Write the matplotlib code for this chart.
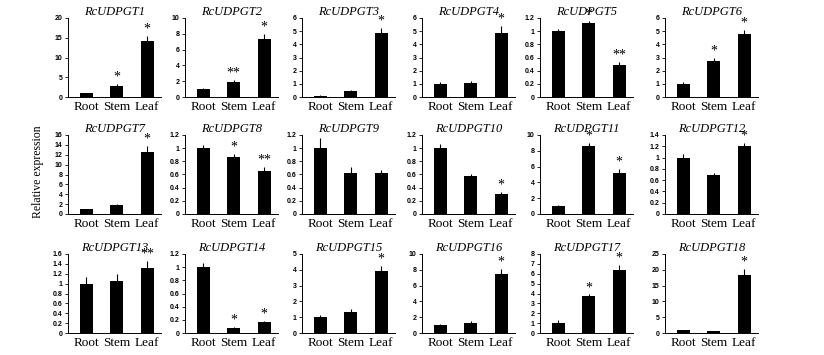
import matplotlib
matplotlib.use("Agg")
import matplotlib.pyplot as plt
import numpy as np

tissues = ["Root", "Stem", "Leaf"]

genes = ["RcUDPGT%d" % i for i in range(1, 19)]

# mean relative expression (Root, Stem, Leaf)
means = [
    [1.0, 2.9, 14.3],
    [1.0, 1.9, 7.3],
    [0.1, 0.45, 4.85],
    [1.0, 1.05, 4.85],
    [1.0, 1.12, 0.48],
    [1.0, 2.7, 4.75],
    [1.0, 1.8, 12.6],
    [1.0, 0.86, 0.66],
    [1.0, 0.62, 0.62],
    [1.0, 0.58, 0.31],
    [1.0, 8.6, 5.2],
    [1.0, 0.7, 1.21],
    [1.0, 1.05, 1.31],
    [1.0, 0.08, 0.17],
    [1.0, 1.35, 3.9],
    [1.0, 1.3, 7.5],
    [1.0, 3.75, 6.4],
    [0.9, 0.6, 18.5],
]

errors = [
    [0.1, 0.3, 1.2],
    [0.1, 0.2, 0.7],
    [0.03, 0.06, 0.4],
    [0.12, 0.15, 0.55],
    [0.04, 0.03, 0.05],
    [0.15, 0.3, 0.35],
    [0.1, 0.3, 1.2],
    [0.05, 0.05, 0.05],
    [0.15, 0.1, 0.05],
    [0.06, 0.03, 0.03],
    [0.1, 0.4, 0.5],
    [0.07, 0.03, 0.05],
    [0.14, 0.15, 0.14],
    [0.06, 0.015, 0.015],
    [0.12, 0.2, 0.35],
    [0.08, 0.2, 0.6],
    [0.27, 0.15, 0.5],
    [0.1, 0.1, 1.7],
]

stars = [
    ["", "*", "*"],
    ["", "**", "*"],
    ["", "", "*"],
    ["", "", "*"],
    ["", "*", "**"],
    ["", "*", "*"],
    ["", "", "*"],
    ["", "*", "**"],
    ["", "", ""],
    ["", "", "*"],
    ["", "*", "*"],
    ["", "", "*"],
    ["", "", "**"],
    ["", "*", "*"],
    ["", "", "*"],
    ["", "", "*"],
    ["", "*", "*"],
    ["", "", "*"],
]

# y-axis max and tick step per panel
ymax = [20, 10, 6, 6, 1.2, 6, 16, 1.2, 1.2, 1.2, 10, 1.4, 1.6, 1.2, 5, 10, 8, 25]
ystep = [5, 2, 1, 1, 0.2, 1, 2, 0.2, 0.2, 0.2, 2, 0.2, 0.2, 0.2, 1, 2, 1, 5]

W, H = 824, 355
fig = plt.figure(figsize=(W / 100, H / 100), dpi=100)

lefts = [68, 185, 302, 422, 540, 665]
tops = [18, 135, 254]
aw, ah = 93, 79

x = np.arange(3)
for i, g in enumerate(genes):
    r, c = divmod(i, 6)
    ax = fig.add_axes([lefts[c] / W, 1 - (tops[r] + ah) / H, aw / W, ah / H])
    ax.bar(x, means[i], width=0.44, color="black",
           yerr=[np.zeros(3), errors[i]], error_kw=dict(ecolor="black", elinewidth=0.8, capsize=0))
    for j in range(3):
        if stars[i][j]:
            ax.text(x[j], means[i][j] + errors[i][j] + ymax[i] * 0.005, stars[i][j],
                    ha="center", va="bottom", fontsize=10, family="Liberation Serif")
    ax.set_xlim(-0.6, 2.45)
    ax.set_ylim(0, ymax[i])
    ticks = np.arange(0, ymax[i] + ystep[i] / 2, ystep[i])
    ax.set_yticks(ticks)
    ax.set_yticklabels(["%g" % round(t, 1) for t in ticks], fontsize=5, fontweight="bold",
                       family="Liberation Sans")
    ax.set_xticks(x)
    ax.set_xticklabels(tissues, fontsize=9.5, family="Liberation Serif")
    ax.tick_params(axis="x", length=0, pad=3)
    ax.tick_params(axis="y", length=2, width=0.6, pad=2)
    for s in ["top", "right"]:
        ax.spines[s].set_visible(False)
    for s in ["left", "bottom"]:
        ax.spines[s].set_linewidth(0.7)
    ax.set_title(g, fontsize=9, style="italic", family="Liberation Serif", pad=2)

fig.text(38 / W, 1 - 172 / H, "Relative expression", rotation=90, ha="center", va="center",
         fontsize=8.5, family="Liberation Serif")

fig.savefig("out.png", dpi=100)
